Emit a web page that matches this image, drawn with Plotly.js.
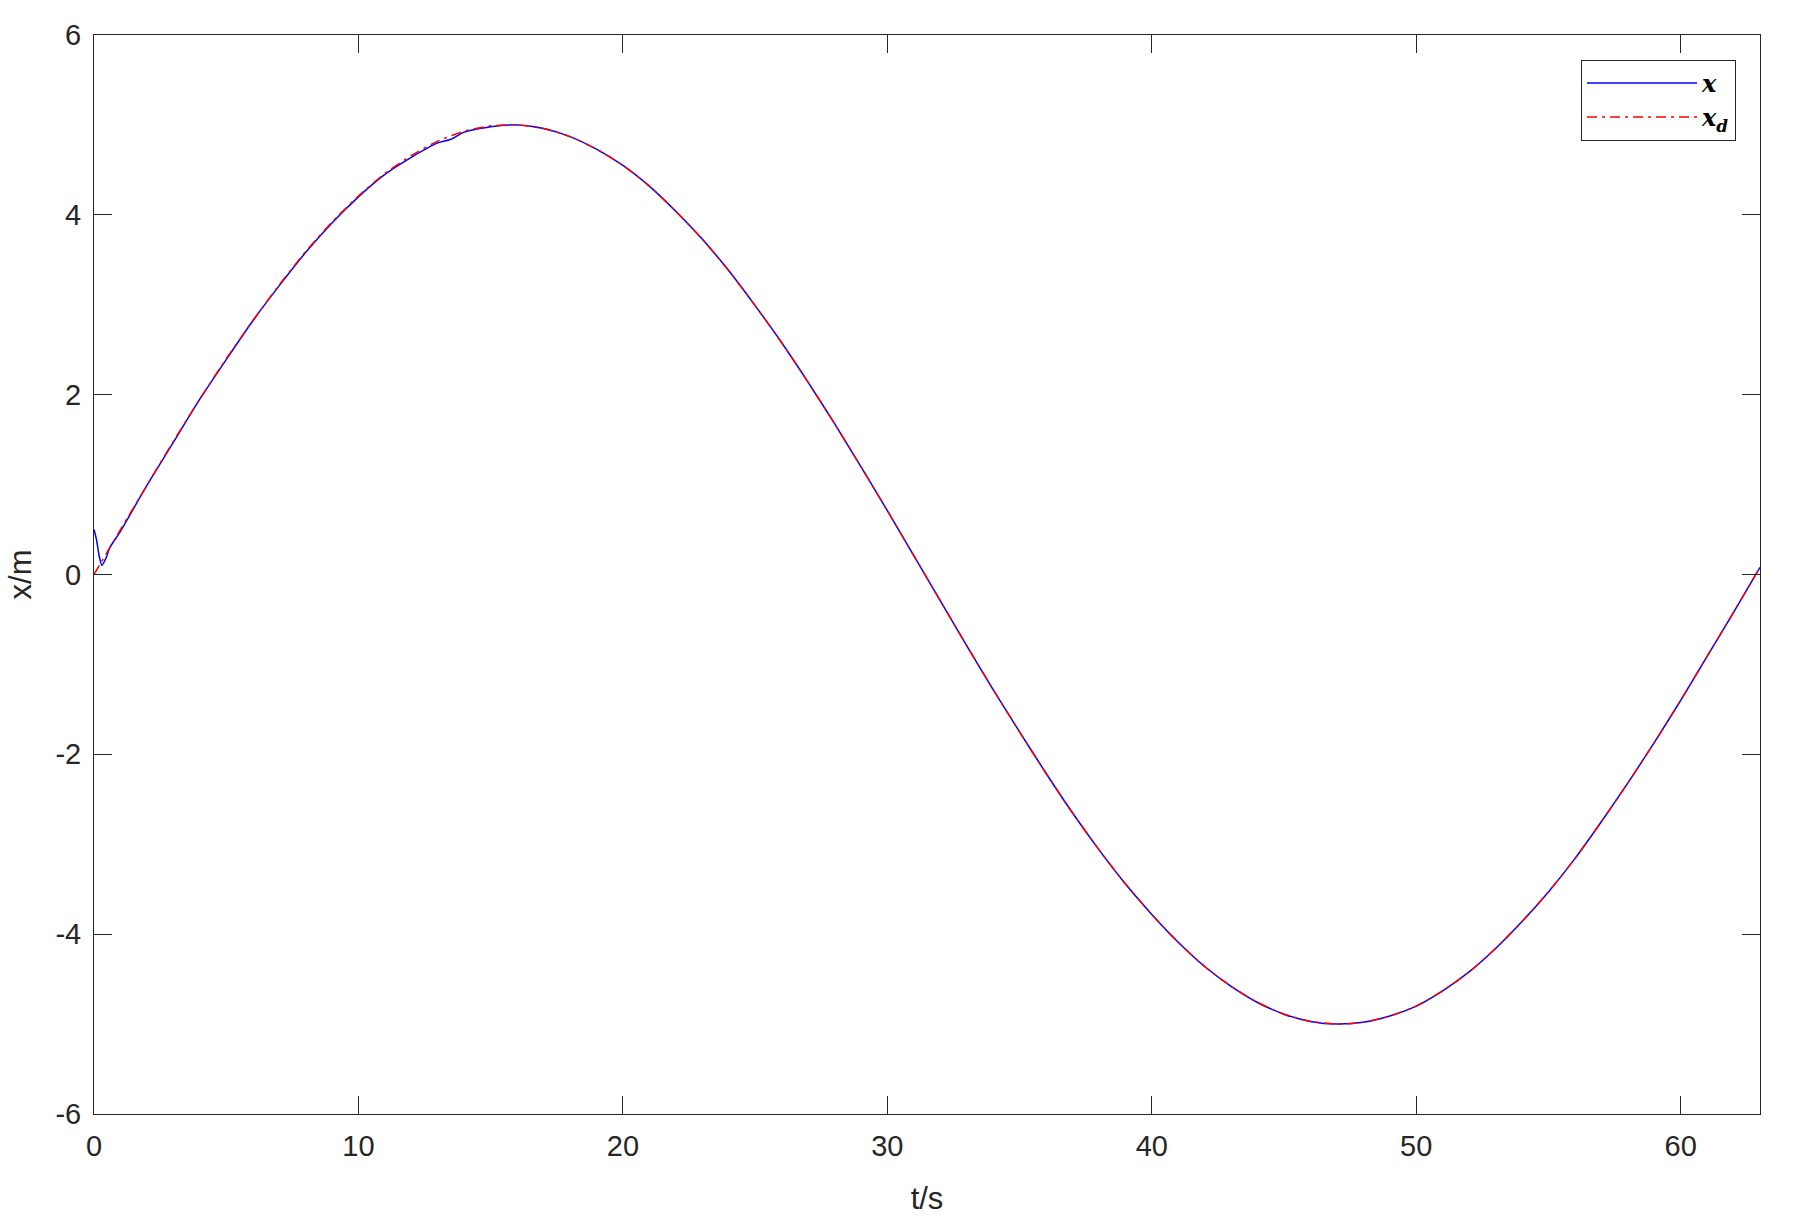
<!DOCTYPE html>
<html>
<head>
<meta charset="utf-8">
<script src="https://cdn.plot.ly/plotly-3.0.1.min.js"></script>
<style>
  html, body { margin: 0; padding: 0; background: #fff; }
  #plot { width: 1795px; height: 1224px; }
</style>
</head>
<body>
<div id="plot"></div>
<script>
// desired trajectory x_d at whole seconds
var tDesired = [0, 1, 2, 3, 4, 5, 6, 7, 8, 9, 10, 11, 12, 13, 14, 15, 16, 17, 18, 19,
    20, 21, 22, 23, 24, 25, 26, 27, 28, 29, 30, 31, 32, 33, 34, 35, 36, 37, 38, 39,
    40, 41, 42, 43, 44, 45, 46, 47, 48, 49, 50, 51, 52, 53, 54, 55, 56, 57, 58, 59,
    60, 61, 62, 63];
var xDesired = [0, 0.50, 0.99, 1.48, 1.95, 2.40, 2.82, 3.22, 3.59, 3.92, 4.21, 4.46, 4.66, 4.82, 4.93, 4.99, 5.00, 4.96, 4.87, 4.73,
    4.55, 4.32, 4.04, 3.73, 3.38, 2.99, 2.58, 2.14, 1.68, 1.20, 0.71, 0.21, -0.29, -0.79, -1.28, -1.75, -2.21, -2.65, -3.06, -3.44,
    -3.78, -4.09, -4.36, -4.58, -4.76, -4.89, -4.97, -5.00, -4.98, -4.91, -4.80, -4.63, -4.42, -4.16, -3.86, -3.53, -3.16, -2.75, -2.32, -1.87,
    -1.40, -0.91, -0.42, 0.08];

// actual position x, with the start-up transient
var tActual = [0, 0.1, 0.2, 0.3, 0.45, 0.6, 1, 2, 3, 4, 5, 6, 7, 8, 9, 10, 11, 12, 13, 13.5, 14, 15, 16, 17, 18, 19,
    20, 21, 22, 23, 24, 25, 26, 27, 28, 29, 30, 31, 32, 33, 34, 35, 36, 37, 38, 39,
    40, 41, 42, 43, 44, 45, 46, 47, 48, 49, 50, 51, 52, 53, 54, 55, 56, 57, 58, 59,
    60, 61, 62, 63];
var xActual = [0.50, 0.38, 0.20, 0.10, 0.18, 0.30, 0.48, 0.99, 1.47, 1.95, 2.39, 2.82, 3.21, 3.58, 3.91, 4.20, 4.45, 4.64, 4.80, 4.84, 4.92, 4.98, 5.00, 4.96, 4.87, 4.73,
    4.55, 4.32, 4.04, 3.73, 3.38, 2.99, 2.58, 2.14, 1.68, 1.20, 0.71, 0.21, -0.29, -0.79, -1.28, -1.75, -2.21, -2.65, -3.06, -3.44,
    -3.78, -4.09, -4.36, -4.58, -4.76, -4.89, -4.97, -5.00, -4.98, -4.91, -4.80, -4.63, -4.42, -4.16, -3.86, -3.53, -3.16, -2.75, -2.32, -1.87,
    -1.40, -0.91, -0.42, 0.08];

var xTicks = [0, 10, 20, 30, 40, 50, 60];
var yTicks = [-6, -4, -2, 0, 2, 4, 6];
var yTickText = ['-6', '-4', '-2', '0', '2', '4', '6'];

var axisColor = '#262626';
var tickFont = {family: 'Liberation Sans, Arial, sans-serif', size: 29, color: axisColor};

var traces = [
    {
        x: tActual, y: xActual,
        type: 'scatter', mode: 'lines',
        name: '<b><i>x</i></b>',
        line: {color: '#0000ff', width: 1.5, shape: 'spline', smoothing: 0.6}
    },
    {
        x: tDesired, y: xDesired,
        type: 'scatter', mode: 'lines',
        name: '<b><i>x<sub>d</sub></i></b>',
        line: {color: '#ff0000', width: 1.5, dash: '10px,5px,3px,5px', shape: 'spline', smoothing: 0.6}
    }
];

var layout = {
    width: 1795,
    height: 1224,
    margin: {l: 94, r: 35, t: 35, b: 110},
    paper_bgcolor: '#ffffff',
    plot_bgcolor: '#ffffff',
    showlegend: true,
    legend: {
        x: 0.9856, y: 0.977, xanchor: 'right', yanchor: 'top',
        bordercolor: axisColor, borderwidth: 1, bgcolor: '#ffffff',
        font: {family: 'DejaVu Serif, serif', size: 24, color: '#000'},
        itemwidth: 110
    },
    xaxis: {
        range: [0, 63],
        tickvals: xTicks,
        ticks: 'inside', ticklen: 18, tickcolor: axisColor, tickwidth: 1,
        ticklabelstandoff: 6,
        showline: true, linecolor: axisColor, linewidth: 1, mirror: 'ticks',
        showgrid: false, zeroline: false,
        tickfont: tickFont,
        title: {text: 't/s', font: {family: 'Liberation Sans, Arial, sans-serif', size: 31, color: axisColor}, standoff: 26}
    },
    yaxis: {
        range: [-6, 6],
        tickvals: yTicks,
        ticktext: yTickText,
        ticks: 'inside', ticklen: 18, tickcolor: axisColor, tickwidth: 1,
        ticklabelstandoff: 6,
        showline: true, linecolor: axisColor, linewidth: 1, mirror: 'ticks',
        showgrid: false, zeroline: false,
        tickfont: tickFont,
        title: {text: 'x/m', font: {family: 'Liberation Sans, Arial, sans-serif', size: 31, color: axisColor}, standoff: 14}
    }
};

Plotly.newPlot('plot', traces, layout, {displayModeBar: false});
</script>
</body>
</html>
